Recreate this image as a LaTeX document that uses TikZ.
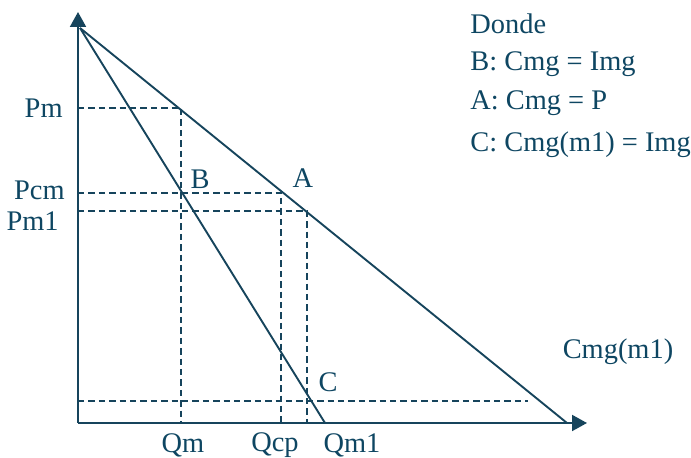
\documentclass[tikz,border=0pt]{standalone}
\usepackage{fontspec}
\setmainfont{Liberation Serif}
\usetikzlibrary{arrows.meta}
\definecolor{ink}{RGB}{22,68,92}
\definecolor{txt}{RGB}{14,70,98}
\begin{document}
\begin{tikzpicture}[x=0.5pt,y=-0.5pt,
  line/.style={draw=ink,line width=0.95pt},
  dashline/.style={draw=ink,line width=0.8pt,dash pattern=on 3.2pt off 2pt},
  axis/.style={draw=ink,line width=1pt,-{Triangle[width=8pt,length=7.5pt]}},
  lab/.style={text=txt,font=\fontsize{14.2}{17}\selectfont,inner sep=0pt}]
\useasboundingbox (0,0) rectangle (691,458);
% coordinates
\coordinate (O) at (78,423);
\coordinate (Ytop) at (78,12);
\coordinate (Xend) at (587,423);
\coordinate (V) at (80,28);
\coordinate (Dend) at (567,423);
\coordinate (Iend) at (325,423);
\coordinate (Ppm) at (181,108);
\coordinate (Ypm) at (78,108);
\coordinate (Bpt) at (181,193);
\coordinate (Ypcm) at (78,193);
\coordinate (Ecm) at (281,193);
\coordinate (Ypm1) at (78,211);
\coordinate (Apt) at (307,211);
\coordinate (Yc) at (78,401);
\coordinate (Ec) at (528,401);
\coordinate (Qm) at (181,423);
\coordinate (Qcp) at (281,423);
\coordinate (Qm1) at (307,423);
% axes
\draw[axis] (O) -- (Ytop);
\draw[axis] (O) -- (Xend);
% dashed
\draw[dashline] (Ypm) -- (Ppm) -- (Qm);
\draw[dashline] (Ypcm) -- (Ecm) -- (Qcp);
\draw[dashline] (Ypm1) -- (Apt) -- (Qm1);
\draw[dashline] (Yc) -- (Ec);
% curves
\draw[line] (V) -- (Dend);
\draw[line] (V) -- (Iend);
% labels
\node[lab,anchor=east] (lpm) at (63,108) {Pm};
\node[lab,anchor=east] (lpcm) at (65,190) {Pcm};
\node[lab,anchor=east] (lpm1) at (59,221) {Pm1};
\node[lab] (lB) at (200,179) {B};
\node[lab] (lA) at (303,178) {A};
\node[lab] (lC) at (328,382) {C};
\node[lab] (lqm) at (183,445) {Qm};
\node[lab] (lqcp) at (275,445) {Qcp};
\node[lab] (lqm1) at (352,445) {Qm1};
\node[lab] (lcmg) at (618,352) {Cmg(m1)};
\node[lab,anchor=west] (l1) at (470,24) {Donde};
\node[lab,anchor=west] (l2) at (470,64) {B: Cmg = Img};
\node[lab,anchor=west] (l3) at (470,103) {A: Cmg = P};
\node[lab,anchor=west] (l4) at (470,145) {C: Cmg(m1) = Img};
\end{tikzpicture}
\end{document}
